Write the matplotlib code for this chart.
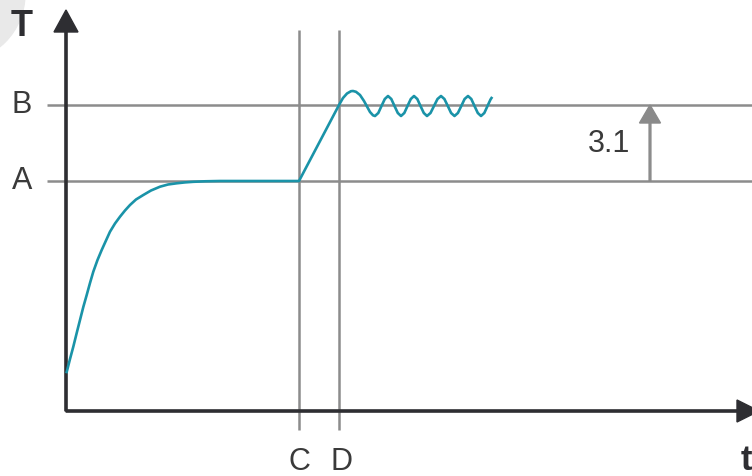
import numpy as np
import matplotlib
matplotlib.use('Agg')
from matplotlib import pyplot as plt
from matplotlib.patches import Circle

# levels / markers (same arbitrary units as the curve)
level_names = ['A', 'B']
level_values = [23.0, 30.6]
time_names = ['C', 'D']
time_values = [23.3, 27.5]
step_label = '3.1'

# temperature curve: rise, plateau, ramp, overshoot, ringing
curve_t = [0.07, 0.4, 0.73, 1.07, 1.4, 1.73, 2.07, 2.4, 2.73, 3.15, 3.57, 4.0, 4.4,
           4.9, 5.4, 5.9, 6.4, 7.0, 7.73, 8.5, 9.4, 10.2, 11.07, 11.9, 12.73, 13.9, 15.4,
           23.3, 27.3,
           27.7, 28.1, 28.5, 28.7, 29.0, 29.4, 29.8, 30.1, 30.4, 30.7, 30.9,
           31.23, 31.55, 31.88, 32.2,
           32.53, 32.85, 33.18, 33.5,
           33.83, 34.15, 34.48, 34.8,
           35.13, 35.45, 35.78, 36.1,
           36.45, 36.8, 37.15, 37.5,
           37.84, 38.18, 38.51, 38.85,
           39.19, 39.53, 39.86, 40.2,
           40.53, 40.85, 41.18, 41.5,
           41.83, 42.15, 42.45, 42.55]
curve_T = [3.9, 5.2, 6.43, 7.8, 9.1, 10.4, 11.6, 12.8, 13.93, 15.1, 16.1, 17.05, 17.93,
           18.75, 19.43, 20.05, 20.6, 21.15, 21.6, 22.05, 22.43, 22.65, 22.77, 22.86, 22.92, 22.97, 23.0,
           23.0, 30.6,
           31.3, 31.75, 31.98, 32.0, 31.92, 31.6, 31.0, 30.45, 29.9, 29.57, 29.5,
           29.8, 30.5, 31.2, 31.5,
           31.2, 30.5, 29.8, 29.5,
           29.8, 30.5, 31.2, 31.5,
           31.2, 30.5, 29.8, 29.5,
           29.8, 30.5, 31.2, 31.5,
           31.2, 30.5, 29.8, 29.5,
           29.8, 30.5, 31.2, 31.5,
           31.2, 30.5, 29.8, 29.5,
           29.8, 30.5, 31.15, 31.3]

# style
axis_col = '#2e2e32'
grid_col = '#8c8c8c'
curve_col = '#1a93a8'
text_col = '#3a3a3a'
font = 'Liberation Sans'

fig = plt.figure(figsize=(7.52, 4.76), dpi=100)
ax = fig.add_axes([0, 0, 1, 1])
ax.set_xlim(-6.6, 68.6)
ax.set_ylim(-6.5, 41.1)
ax.axis('off')

# faint corner blob (top left)
ax.add_patch(Circle((-10.9, 41.7), 6.8, color='#e9e9e9', zorder=0, clip_on=True))

# reference lines
ax.hlines(level_values, -1.9, 68.6, color=grid_col, lw=1.8, zorder=1)
ax.vlines([23.3, 27.3], -1.9, 38.1, color=grid_col, lw=1.8, zorder=1)

# axes with arrow heads
ax.arrow(0, 0, 0, 40.1, width=0.22, head_width=2.4, head_length=2.2,
         length_includes_head=True, color=axis_col, zorder=3)
ax.arrow(0, 0, 69.3, 0, width=0.22, head_width=2.2, head_length=2.2,
         length_includes_head=True, color=axis_col, zorder=3)

# the curve
ax.plot(curve_t, curve_T, color=curve_col, lw=1.9, solid_joinstyle='round', zorder=4)

# step arrow A -> B
ax.arrow(58.4, level_values[0], 0, level_values[1] - level_values[0], width=0.18,
         head_width=2.1, head_length=1.8, length_includes_head=True,
         color='#8a8a8a', zorder=3)
ax.text(54.3, 26.7, step_label, fontsize=22, color=text_col, family=font,
        ha='center', va='center')

# labels
for name, val in zip(level_names, level_values):
    ax.text(-4.4, val, name, fontsize=22, color=text_col, family=font,
            ha='center', va='center')
for name, val in zip(time_names, time_values):
    ax.text(val, -5.1, name, fontsize=22, color=text_col, family=font,
            ha='center', va='center')
ax.text(-4.4, 38.5, 'T', fontsize=26, fontweight='bold', color=axis_col,
        family=font, ha='center', va='center')
ax.text(68.0, -4.9, 't', fontsize=25, fontweight='bold', color=axis_col,
        family=font, ha='center', va='center')

fig.savefig('out.png', dpi=100)
